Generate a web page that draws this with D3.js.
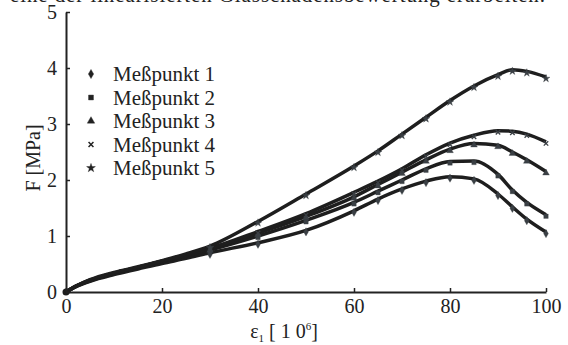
<!DOCTYPE html>
<html>
<head>
<meta charset="utf-8">
<script src="https://cdn.jsdelivr.net/npm/d3@7"></script>
<style>
  body { margin: 0; background: #fff; }
  svg text { font-family: 'Liberation Serif', 'Times New Roman', Tinos, 'DejaVu Serif', serif; fill: #222; }
</style>
</head>
<body>
<div id="chart"></div>
<script>
// strain values (x) shared by all series
const strain = [0, 2, 5, 10, 15, 20, 25, 30, 40, 50, 60, 65, 70, 75, 80, 85, 90, 93, 96, 100];
const mp1 = [0, 0.09, 0.19, 0.31, 0.41, 0.51, 0.60, 0.70, 0.88, 1.10, 1.45, 1.66, 1.84, 1.98, 2.06, 2.02, 1.75, 1.52, 1.30, 1.07];
const mp2 = [0, 0.10, 0.20, 0.33, 0.43, 0.54, 0.64, 0.75, 1.00, 1.28, 1.60, 1.80, 2.00, 2.20, 2.33, 2.34, 2.10, 1.82, 1.60, 1.38];
const mp3 = [0, 0.10, 0.21, 0.34, 0.44, 0.55, 0.65, 0.77, 1.05, 1.35, 1.70, 1.92, 2.14, 2.36, 2.55, 2.65, 2.62, 2.50, 2.36, 2.15];
const mp4 = [0, 0.10, 0.21, 0.34, 0.44, 0.55, 0.66, 0.78, 1.08, 1.40, 1.78, 1.98, 2.20, 2.45, 2.66, 2.80, 2.88, 2.87, 2.82, 2.68];
const mp5 = [0, 0.10, 0.22, 0.35, 0.45, 0.56, 0.68, 0.82, 1.26, 1.75, 2.25, 2.52, 2.82, 3.12, 3.42, 3.68, 3.88, 3.97, 3.94, 3.84];
const seriesNames = ['Meßpunkt 1', 'Meßpunkt 2', 'Meßpunkt 3', 'Meßpunkt 4', 'Meßpunkt 5'];
const xTicks = [0, 20, 40, 60, 80, 100];
const yTicks = [0, 1, 2, 3, 4, 5];

const allSeries = [mp1, mp2, mp3, mp4, mp5];
const symbols = [d3.symbolDiamond, d3.symbolSquare, d3.symbolTriangle, 'x', d3.symbolStar];
const serif = "'Liberation Serif', 'Times New Roman', Tinos, 'DejaVu Serif', serif";

const W = 568, H = 345;
const svg = d3.select('#chart').append('svg')
  .attr('width', W)
  .attr('height', H);

// cut-off caption line from the page above
svg.append('text')
  .attr('x', 10)
  .attr('y', 2)
  .attr('font-size', 21)
  .attr('textLength', 535)
  .text('eine der linearisierten Glasschadensbewertung erarbeiten.');

const x = d3.scaleLinear().domain([0, 100]).range([66, 546]);
const y = d3.scaleLinear().domain([0, 5]).range([292, 12]);

const line = d3.line()
  .x((d) => x(d[0]))
  .y((d) => y(d[1]))
  .curve(d3.curveMonotoneX);

function markerPath(sym, size) {
  if (sym === 'x') {
    const s = Math.sqrt(size) / 2;
    return `M${-s},${-s}L${s},${s}M${-s},${s}L${s},${-s}`;
  }
  return d3.symbol().type(sym).size(size)();
}

// curves
allSeries.forEach((vals, i) => {
  const pts = strain.map((s, k) => [s, vals[k]]);
  svg.append('path')
    .datum(pts)
    .attr('fill', 'none')
    .attr('stroke', '#1e1e1e')
    .attr('stroke-width', 3.5)
    .attr('d', line);
  svg.selectAll('.m' + i)
    .data(pts.filter((d) => d[0] >= 30))
    .enter().append('path')
    .attr('class', 'm' + i)
    .attr('transform', (d) => `translate(${x(d[0])},${y(d[1]) + 1.5})`)
    .attr('d', markerPath(symbols[i], 20))
    .attr('fill', symbols[i] === 'x' ? 'none' : '#3a3f44')
    .attr('stroke', '#3a3f44')
    .attr('stroke-width', symbols[i] === 'x' ? 1.3 : 0.3);
});

// origin dot
svg.append('circle')
  .attr('cx', x(0))
  .attr('cy', y(0))
  .attr('r', 3.5)
  .attr('fill', '#1e1e1e');

// axes
const xAxis = svg.append('g')
  .attr('transform', `translate(0,${y(0)})`)
  .call(d3.axisBottom(x).tickValues(xTicks).tickFormat(d3.format('d'))
    .tickSizeInner(-4).tickSizeOuter(0).tickPadding(7));
const yAxis = svg.append('g')
  .attr('transform', `translate(${x(0)},0)`)
  .call(d3.axisLeft(y).tickValues(yTicks).tickFormat(d3.format('d'))
    .tickSizeInner(-4).tickSizeOuter(0).tickPadding(9));
[xAxis, yAxis].forEach((g) => {
  g.attr('font-family', serif);
  g.select('.domain').attr('stroke', '#222').attr('stroke-width', 2);
  g.selectAll('.tick line').attr('stroke', '#222').attr('stroke-width', 1.5);
  g.selectAll('.tick text')
    .style('font-family', serif)
    .attr('font-size', 20)
    .attr('fill', '#222');
});

// axis titles
const xt = svg.append('text')
  .attr('x', 284)
  .attr('y', 338)
  .attr('text-anchor', 'middle')
  .attr('font-size', 20);
xt.append('tspan').text('ε');
xt.append('tspan').attr('font-size', 11).attr('dy', 4).text('1');
xt.append('tspan').attr('dy', -4).text(' [ 1 0');
xt.append('tspan').attr('font-size', 11).attr('dy', -8).text('6');
xt.append('tspan').attr('dy', 8).text(']');

svg.append('text')
  .attr('transform', 'translate(40,158) rotate(-90)')
  .attr('text-anchor', 'middle')
  .attr('font-size', 20)
  .text('F [MPa]');

// legend
const legend = svg.append('g');
seriesNames.forEach((name, i) => {
  const ly = 75 + i * 23.5;
  legend.append('path')
    .attr('transform', `translate(91,${ly - 1})`)
    .attr('d', markerPath(symbols[i], 24))
    .attr('fill', symbols[i] === 'x' ? 'none' : '#222')
    .attr('stroke', '#222')
    .attr('stroke-width', symbols[i] === 'x' ? 1.5 : 0.4);
  legend.append('text')
    .attr('x', 113)
    .attr('y', ly + 6)
    .attr('font-size', 21)
    .text(name);
});
</script>
</body>
</html>
